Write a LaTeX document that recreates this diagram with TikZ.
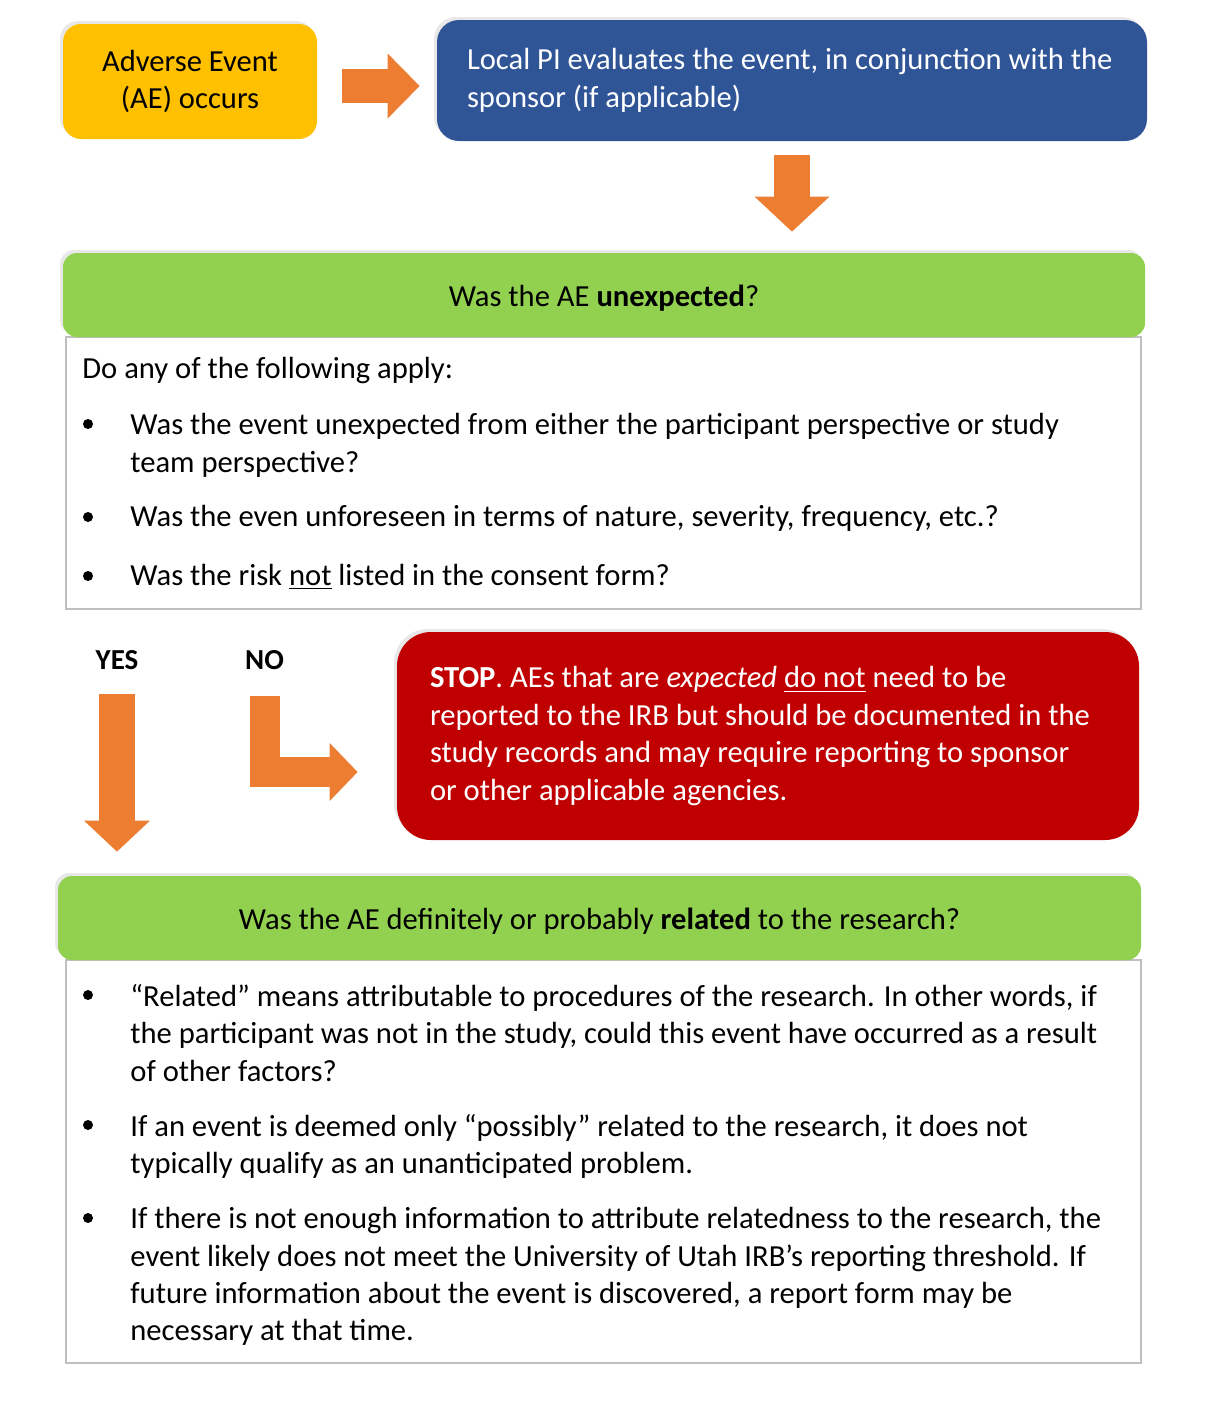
\documentclass[tikz,border=0pt]{standalone}
\usepackage{fontspec}
\setmainfont{Carlito}
\usetikzlibrary{arrows.meta,shadows,positioning}
\definecolor{aeyellow}{HTML}{FFC000}
\definecolor{aeblue}{HTML}{2F5597}
\definecolor{aegreen}{HTML}{92D050}
\definecolor{aered}{HTML}{C00000}
\definecolor{aeorange}{HTML}{ED7D31}
\definecolor{aegray}{HTML}{BFBFBF}
\newcommand\aefont{\fontsize{15.3}{18.7}\selectfont}
\begin{document}
\begin{tikzpicture}[x=0.5pt, y=-0.5pt, every node/.style={font=\aefont}]
  %
  \tikzstyle{sh} = [drop shadow={shadow xshift=-1.5pt, shadow yshift=1.5pt, opacity=0.18}]
  \tikzstyle{box} = [rounded corners=9pt, inner sep=0pt, sh]
  \tikzstyle{hdr} = [fill=aegreen, rounded corners=7pt, minimum width=541pt, minimum height=42pt, text height=12pt, text depth=1pt, sh]
  \tikzstyle{pane} = [draw=aegray, line width=0.7pt, fill=white, minimum width=537.5pt]
  \tikzstyle{txt} = [anchor=north west, align=left, inner sep=0pt, execute at begin node=\strut]
  \tikzstyle{dot} = [circle, fill=black, inner sep=0pt, minimum size=5pt]
  \tikzstyle{lbl} = [anchor=base, inner sep=0pt, font=\fontsize{14.5}{18.7}\selectfont\bfseries]
  \tikzstyle{blk} = [draw=aeorange, line width=18pt, -{Triangle[length=15.5pt, width=33pt, line width=0pt]}]
  \useasboundingbox (0,0) rectangle (1222,1403);

  % top row
  \node[box, fill=aeyellow, minimum width=127pt, minimum height=57.5pt, align=center] (ae) at (190,81.5)
    {Adverse Event\\(AE) occurs};
  \node[box, fill=aeblue, text=white, rounded corners=11pt, minimum height=60.5pt, text width=325pt, inner xsep=15pt, align=flush left] (pi) at (792,80.5)
    {Local PI evaluates the event, in conjunction with the\\sponsor (if applicable)};

  % unexpected?
  \node[pane, minimum height=136pt] (q1box) at (603.5,473) {};
  \node[hdr] (q1) at (604,295) {Was the AE \textbf{unexpected}?};
  \node[txt] (q1intro) at (82,352) {Do any of the following apply:};
  \node[txt] (q1a) at (130,413) {Was the event unexpected from either the participant perspective or study\\team perspective?};
  \node[txt] (q1b) at (130,500) {Was the even unforeseen in terms of nature, severity, frequency, etc.?};
  \node[txt] (q1c) at (130,559) {Was the risk \underline{not} listed in the consent form?};
  \node[dot] (d1a) at (88,424) {};
  \node[dot] (d1b) at (88,517) {};
  \node[dot] (d1c) at (88,576) {};

  % yes / no
  \node[lbl] (yes) at (117,669) {YES};
  \node[lbl] (no) at (264.5,669) {NO};
  \node[box, fill=aered, text=white, rounded corners=17pt, minimum height=104pt, text width=338pt, inner xsep=16.5pt, align=flush left] (stop) at (768,736)
    {\textbf{STOP}. AEs that are \textit{expected} \underline{do not} need to be\\reported to the IRB but should be documented in the\\study records and may require reporting to sponsor\\or other applicable agencies.};

  % related?
  \node[pane, minimum height=201.5pt] (q2box) at (603.5,1161.5) {};
  \node[hdr, minimum width=541.5pt] (q2) at (599.5,918) {Was the AE definitely or probably \textbf{related} to the research?};
  \node[txt] (q2a) at (130,984) {“Related” means attributable to procedures of the research. In other words, if\\the participant was not in the study, could this event have occurred as a result\\of other factors?};
  \node[txt] (q2b) at (130,1114) {If an event is deemed only “possibly” related to the research, it does not\\typically qualify as an unanticipated problem.};
  \node[txt] (q2c) at (130,1207) {If there is not enough information to attribute relatedness to the research, the\\event likely does not meet the University of Utah IRB’s reporting threshold. If\\future information about the event is discovered, a report form may be\\necessary at that time.};
  \node[dot] (d2a) at (88,995) {};
  \node[dot] (d2b) at (88,1125) {};
  \node[dot] (d2c) at (88,1218) {};

  % arrows
  \draw[blk, line width=17pt, -{Triangle[length=16pt, width=32.5pt, line width=0pt]}]
    ([xshift=12.5pt,yshift=-2.25pt]ae.east) -- ([xshift=-8.5pt,yshift=-2.75pt]pi.west);
  \draw[blk, -{Triangle[length=17.5pt, width=37.5pt, line width=0pt]}]
    ([yshift=-7pt]pi.south) -- ([yshift=10.5pt]pi.south |- q1.north);
  \draw[blk] ([yshift=-12.5pt]yes.base) -- ([yshift=12pt]yes.base |- q2.north);
  \draw[blk, line width=15pt, -{Triangle[length=14pt, width=29pt, line width=0pt]}]
    ([yshift=-13.5pt]no.base) |- ([xshift=-19.5pt,yshift=-18pt]stop.west);
\end{tikzpicture}
\end{document}
